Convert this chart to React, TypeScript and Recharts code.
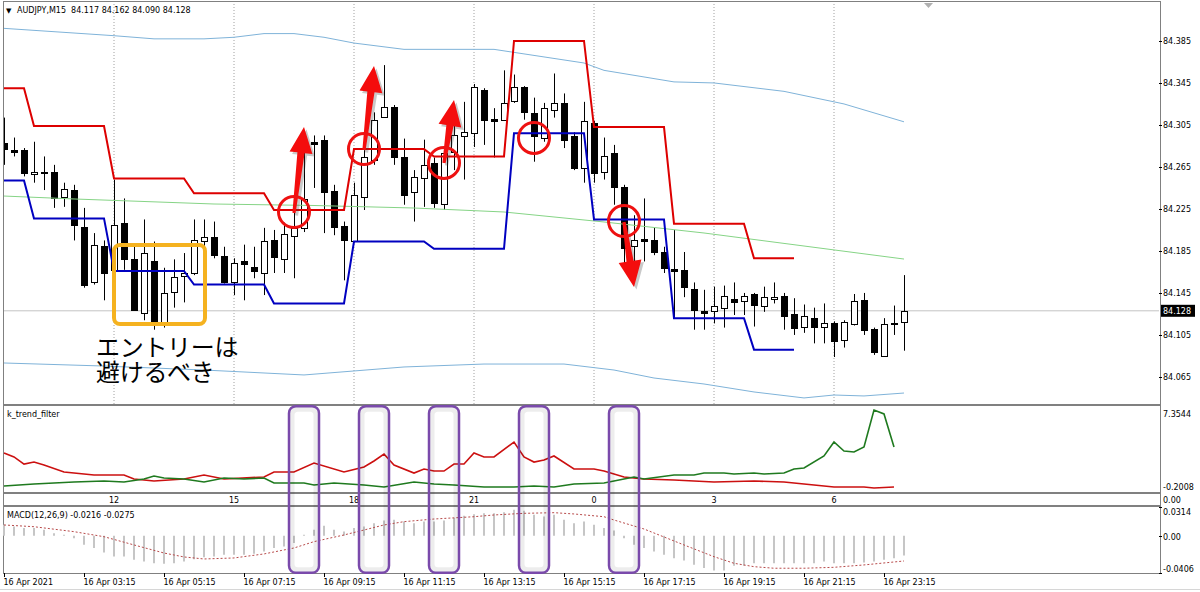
import React from 'react';
import { ComposedChart, Bar, Line, XAxis, YAxis, ReferenceLine, ReferenceDot, ReferenceArea } from 'recharts';

const FONT = '"DejaVu Sans", Verdana, sans-serif';
const JP_FONT = '"Noto Sans CJK JP", "Noto Sans CJK SC", sans-serif';
const SLOTS = 116;

// ---- AUDJPY M15 candles ----
const opens = [84.288,84.281,84.281,84.258,84.260,84.260,84.236,84.243,84.208,84.155,
84.190,84.167,84.212,84.177,84.126,84.175,84.115,84.146,84.161,84.164,
84.194,84.198,84.180,84.155,84.175,84.170,84.164,84.195,84.177,84.199,
84.207,84.289,84.291,84.242,84.209,84.194,84.236,84.272,84.313,84.322,
84.274,84.241,84.254,84.269,84.230,84.279,84.294,84.297,84.338,84.311,
84.310,84.328,84.341,84.316,84.293,84.319,84.326,84.294,84.264,84.307,
84.260,84.278,84.246,84.190,84.196,84.195,84.184,84.168,84.167,84.149,
84.128,84.128,84.131,84.139,84.137,84.144,84.133,84.139,84.142,84.125,
84.113,84.121,84.113,84.116,84.100,84.115,84.138,84.111,84.085,84.116,
84.117];
const highs = [84.312,84.293,84.283,84.289,84.275,84.267,84.250,84.248,84.226,84.202,
84.195,84.253,84.235,84.189,84.215,84.194,84.169,84.177,84.183,84.215,
84.215,84.213,84.189,84.178,84.191,84.189,84.207,84.205,84.212,84.224,
84.291,84.295,84.295,84.248,84.213,84.250,84.281,84.317,84.362,84.324,
84.292,84.262,84.291,84.274,84.284,84.308,84.327,84.344,84.340,84.321,
84.357,84.353,84.342,84.331,84.326,84.354,84.335,84.298,84.327,84.309,
84.293,84.286,84.248,84.219,84.235,84.207,84.189,84.205,84.184,84.155,
84.148,84.151,84.152,84.155,84.145,84.145,84.151,84.155,84.145,84.140,
84.134,84.131,84.135,84.118,84.119,84.144,84.145,84.112,84.121,84.133,
84.162];
const lows = [84.267,84.275,84.256,84.250,84.243,84.226,84.227,84.195,84.150,84.153,
84.138,84.140,84.167,84.128,84.119,84.110,84.112,84.131,84.136,84.162,
84.172,84.178,84.154,84.143,84.138,84.159,84.143,84.164,84.164,84.159,
84.203,84.245,84.202,84.200,84.157,84.193,84.224,84.267,84.312,84.267,
84.229,84.213,84.227,84.226,84.224,84.262,84.253,84.284,84.286,84.274,
84.309,84.326,84.310,84.270,84.289,84.312,84.283,84.262,84.250,84.250,
84.253,84.229,84.167,84.167,84.175,84.181,84.164,84.122,84.141,84.110,
84.110,84.116,84.112,84.124,84.124,84.113,84.127,84.135,84.110,84.105,
84.107,84.097,84.097,84.084,84.093,84.114,84.105,84.086,84.084,84.105,
84.090];
const closes = [84.282,84.279,84.259,84.260,84.259,84.235,84.244,84.210,84.153,84.191,
84.164,84.210,84.177,84.129,84.183,84.115,84.145,84.160,84.164,84.195,
84.198,84.181,84.155,84.174,84.173,84.166,84.194,84.179,84.201,84.207,
84.234,84.287,84.241,84.208,84.195,84.238,84.274,84.310,84.322,84.274,
84.238,84.255,84.267,84.231,84.278,84.295,84.298,84.341,84.310,84.309,
84.326,84.341,84.317,84.294,84.321,84.326,84.291,84.264,84.309,84.259,
84.275,84.246,84.188,84.195,84.194,84.184,84.169,84.166,84.151,84.129,
84.126,84.133,84.142,84.136,84.142,84.134,84.141,84.141,84.123,84.112,
84.123,84.113,84.116,84.099,84.117,84.137,84.110,84.089,84.115,84.115,
84.128];

// ---- channel (step) lines: level per 2h block ----
const channelStarts = [0, 3, 11, 19, 27, 35, 43, 51, 59, 67, 75];
const channelEnd = 79;
const upperChannel = [84.340, 84.304, 84.254, 84.240, 84.224, 84.282, 84.275, 84.385, 84.303, 84.211, 84.178];
const lowerChannel = [84.252, 84.216, 84.166, 84.153, 84.135, 84.194, 84.187, 84.297, 84.215, 84.121, 84.091];

// ---- moving average and bands (read at bar index) ----
const maPoints: [number, number][] = [[0,84.2373],[7,84.2345],[21,84.2297],[31,84.2283],[41,84.2259],[50,84.2221],[60,84.2126],[70,84.2021],[80,84.1897],[90,84.1773]];
const upperBandPoints: [number, number][] = [[0,84.397],[11,84.390],[15,84.387],[20,84.387],[23,84.3885],[26,84.392],[29,84.392],[32,84.3885],[35,84.383],[40,84.377],[49,84.377],[58,84.364],[60,84.357],[67,84.346],[71,84.345],[78,84.337],[84,84.325],[90,84.308]];
const lowerBandPoints: [number, number][] = [[0,84.0783],[10,84.0754],[20,84.0716],[30,84.0669],[40,84.0745],[48,84.0773],[56,84.0773],[61,84.0716],[65,84.064],[70,84.0583],[75,84.0507],[80,84.045],[83,84.0478],[86,84.0469],[90,84.0497]];

// ---- k_trend_filter ----
const trendRedPoints: [number, number][] = [[0,3.29],[1,2.92],[2,2.25],[3,2.44],[4,2.16],[6,1.50],[9,1.22],[12,1.22],[13,0.84],[15,0.65],[18,0.84],[20,1.22],[22,0.84],[26,1.03],[27,1.50],[29,1.50],[31,2.35],[34,1.50],[36,1.97],[37,2.54],[38,3.20],[39,2.16],[41,1.40],[42,1.78],[43,1.59],[44,1.59],[45,2.25],[46,2.25],[47,3.29],[48,2.92],[49,2.92],[51,4.33],[52,2.92],[53,2.44],[54,2.63],[55,3.01],[57,1.78],[59,1.78],[60,1.59],[62,1.03],[64,0.84],[67,0.74],[71,0.55],[75,0.65],[78,0.55],[80,0.37],[83,0.08],[86,0.08],[87,-0.01],[89,0.08]];
const trendGreenPoints: [number, number][] = [[0,0.18],[3,0.37],[7,0.55],[10,0.65],[12,0.55],[14,0.84],[15,1.12],[16,0.93],[18,0.84],[20,0.55],[22,0.93],[24,0.84],[26,0.93],[27,0.46],[30,0.46],[31,0.27],[33,0.46],[36,0.27],[38,0.08],[41,0.55],[43,0.37],[45,0.27],[48,0.08],[51,0.08],[53,0.18],[55,0.08],[57,0.37],[60,0.46],[62,0.84],[63,1.03],[64,0.84],[67,1.22],[69,1.22],[70,1.40],[72,1.40],[73,1.31],[75,1.40],[76,1.31],[78,1.40],[79,1.78],[80,1.88],[82,3.01],[83,4.33],[84,3.48],[85,3.39],[86,3.86],[87,7.35],[88,6.98],[89,3.86]];

// ---- MACD(12,26,9) ----
const macdHist = [0.0120,0.0102,0.0084,0.0084,0.0066,0.0029,0.0011,-0.0026,-0.0099,-0.0134,
-0.0182,-0.0226,-0.0226,-0.0262,-0.0280,-0.0299,-0.0306,-0.0299,-0.0280,-0.0255,
-0.0233,-0.0226,-0.0207,-0.0207,-0.0207,-0.0196,-0.0171,-0.0134,-0.0117,-0.0080,
0.0011,0.0066,0.0110,0.0066,0.0047,0.0084,0.0102,0.0138,0.0167,0.0174,
0.0156,0.0138,0.0156,0.0156,0.0167,0.0193,0.0218,0.0236,0.0247,0.0247,
0.0258,0.0284,0.0273,0.0229,0.0211,0.0229,0.0174,0.0138,0.0156,0.0120,
0.0084,0.0058,-0.0027,-0.0099,-0.0134,-0.0171,-0.0207,-0.0244,-0.0269,-0.0316,
-0.0352,-0.0378,-0.0378,-0.0327,-0.0327,-0.0299,-0.0299,-0.0299,-0.0299,-0.0299,
-0.0299,-0.0299,-0.0280,-0.0299,-0.0299,-0.0299,-0.0291,-0.0280,-0.0262,-0.0244,
-0.0216];
const macdSignalPoints: [number, number][] = [[0,0.0118],[3,0.0099],[7,0.0045],[10,-0.0010],[13,-0.0100],[16,-0.0188],[18,-0.0231],[20,-0.0253],[23,-0.0242],[26,-0.0198],[29,-0.0133],[31,-0.0064],[34,0.0009],[36,0.0063],[38,0.0118],[40,0.0154],[43,0.0183],[47,0.0208],[49,0.0227],[52,0.0245],[55,0.0252],[57,0.0238],[60,0.0208],[61,0.0172],[64,0.0074],[66,-0.0013],[68,-0.0100],[71,-0.0228],[73,-0.0300],[75,-0.0337],[77,-0.0354],[80,-0.0354],[83,-0.0344],[86,-0.0318],[90,-0.0275]];

// ---- axes ----
const priceTicks = [84.385, 84.345, 84.305, 84.265, 84.225, 84.185, 84.145, 84.105, 84.065];
const CURRENT_PRICE = 84.128;
const MAIN_DOMAIN: [number, number] = [84.03924, 84.42114];
const TREND_DOMAIN: [number, number] = [-0.3897, 7.7322];
const MACD_DOMAIN: [number, number] = [-0.0406, 0.0314];
const trendTicks = [7.3544, -0.2008];
const trendTickLabels = ['7.3544', '-0.2008'];
const trendTickShift = [4, -3];
const macdTicks = [0.0314, 0, -0.0406];
const macdTickLabels = ['0.0314', '0.00', '-0.0406'];
const macdTickShift = [5, 1, -4.5];
const hourTickIdx = [11, 23, 35, 47, 59, 71, 83];
const hourLabels = ['12', '15', '18', '21', '0', '3', '6'];
const dateTickIdx = [0, 8, 16, 24, 32, 40, 48, 56, 64, 72, 80, 88];
const dateLabels = ['16 Apr 2021', '16 Apr 03:15', '16 Apr 05:15', '16 Apr 07:15', '16 Apr 09:15', '16 Apr 11:15', '16 Apr 13:15', '16 Apr 15:15', '16 Apr 17:15', '16 Apr 19:15', '16 Apr 21:15', '16 Apr 23:15'];

// ---- annotations (bar index, price) ----
const signalCircles = [{ i: 29, p: 84.2221 }, { i: 36, p: 84.2821 }, { i: 44, p: 84.2688 }, { i: 53, p: 84.2926 }, { i: 62, p: 84.2135 }];
const signalArrows = [
  { from: { i: 29, p: 84.2211 }, to: { i: 30, p: 84.3031 } },
  { from: { i: 36, p: 84.2811 }, to: { i: 37, p: 84.3611 } },
  { from: { i: 44, p: 84.2688 }, to: { i: 45, p: 84.3288 } },
  { from: { i: 62, p: 84.2126 }, to: { i: 63, p: 84.1507 } },
];
const avoidBox = { i1: 11, i2: 20, p1: 84.1154, p2: 84.1907 };
const filterBoxes: [number, number][] = [[29, 31], [36, 38], [43, 45], [52, 54], [61, 63]];
const FILTER_BOX_Y: [number, number] = [-0.0404, 0.1414];
const noteText = 'エントリーは\n避けるべき';

const toMap = (pts: [number, number][]) => new Map(pts.map(([i, v]) => [i, v]));
const maMap = toMap(maPoints);
const ubMap = toMap(upperBandPoints);
const lbMap = toMap(lowerBandPoints);
const trMap = toMap(trendRedPoints);
const tgMap = toMap(trendGreenPoints);
const sgMap = toMap(macdSignalPoints);

const rows = Array.from({ length: SLOTS }, (_, i) => {
  const has = i < opens.length;
  let seg = -1;
  if (i <= channelEnd) channelStarts.forEach((s, k) => { if (s <= i) seg = k; });
  return {
    i,
    o: has ? opens[i] : null,
    h: has ? highs[i] : null,
    l: has ? lows[i] : null,
    c: has ? closes[i] : null,
    range: has ? [lows[i], highs[i]] : null,
    upper: seg >= 0 ? upperChannel[seg] : null,
    lower: seg >= 0 ? lowerChannel[seg] : null,
    ma: maMap.has(i) ? maMap.get(i) : null,
    ub: ubMap.has(i) ? ubMap.get(i) : null,
    lb: lbMap.has(i) ? lbMap.get(i) : null,
    tRed: trMap.has(i) ? trMap.get(i) : null,
    tGreen: tgMap.has(i) ? tgMap.get(i) : null,
    hist: i < macdHist.length ? macdHist[i] : null,
    sig: sgMap.has(i) ? sgMap.get(i) : null,
  };
});

const Candle = (props: any) => {
  const { x, y, width, height, payload } = props;
  if (!payload || payload.o == null || !isFinite(y) || !isFinite(height)) return <g />;
  const { o, h, l, c } = payload;
  const top = Math.min(y, y + height);
  const span = Math.abs(height);
  const toY = (v: number) => (h === l ? top : top + ((h - v) / (h - l)) * span);
  const cx = Math.floor(x + width / 2) + 0.5;
  const bTop = Math.round(toY(Math.max(o, c))) + 0.5;
  const bBot = Math.round(toY(Math.min(o, c))) + 0.5;
  const bull = c > o;
  return (
    <g>
      <line x1={cx} x2={cx} y1={top} y2={top + span} stroke="#000" strokeWidth={1} />
      <rect x={cx - 3} y={bTop} width={6} height={Math.max(bBot - bTop, 1)} fill={bull ? '#fff' : '#000'} stroke="#000" strokeWidth={1} />
    </g>
  );
};

const Arrow = (props: any) => {
  const { x1, y1, x2, y2 } = props;
  if (![x1, y1, x2, y2].every((v) => isFinite(v))) return <g />;
  const dx = x2 - x1, dy = y2 - y1;
  const len = Math.hypot(dx, dy) || 1;
  const ux = dx / len, uy = dy / len, nx = -uy, ny = ux;
  const headLen = 26, headW = 11.5, shaftTop = 3.6, shaftBot = 1.6;
  const bx = x2 - ux * headLen, by = y2 - uy * headLen;
  const pts = [
    [x1 + nx * shaftBot, y1 + ny * shaftBot],
    [bx + nx * shaftTop, by + ny * shaftTop],
    [bx + nx * headW, by + ny * headW],
    [x2, y2],
    [bx - nx * headW, by - ny * headW],
    [bx - nx * shaftTop, by - ny * shaftTop],
    [x1 - nx * shaftBot, y1 - ny * shaftBot],
  ];
  const str = (ox: number, oy: number) => pts.map(([a, b]) => `${a + ox},${b + oy}`).join(' ');
  return (
    <g>
      <polygon points={str(2.5, 2.5)} fill="rgba(60,60,60,0.28)" />
      <polygon points={str(0, 0)} fill="#f40d0d" />
    </g>
  );
};

const AvoidRect = (p: any) => (
  <rect x={p.x + 5} y={p.y} width={p.width - 9} height={p.height} rx={6} fill="none" stroke="#f5b21f" strokeWidth={4} />
);

const FilterRect = (p: any) => (
  <g>
    <rect x={p.x + 3} y={p.y + 3} width={p.width - 6} height={p.height - 6} rx={6} fill="none" stroke="rgba(0,0,0,0.07)" strokeWidth={5} />
    <rect x={p.x} y={p.y} width={p.width} height={p.height} rx={7} fill="none" stroke="#7a4aab" strokeWidth={2.5} />
  </g>
);

const PriceTick = (props: any) => {
  const { x, y, payload } = props;
  const v = payload.value;
  if (Math.abs(v - CURRENT_PRICE) < 1e-9) {
    return (
      <g>
        <rect x={x - 2} y={y - 6} width={34} height={12} fill="#000" />
        <text x={x} y={y + 3} fontSize={8} fontFamily={FONT} fill="#fff">{v.toFixed(3)}</text>
      </g>
    );
  }
  return (
    <g>
      <line x1={x - 4} x2={x - 1} y1={Math.round(y) + 0.5} y2={Math.round(y) + 0.5} stroke="#000" />
      <text x={x} y={y + 3} fontSize={8} fontFamily={FONT} fill="#000">{v.toFixed(3)}</text>
    </g>
  );
};

const makeSideTick = (ticks: number[], labels: string[], shifts: number[], mark: boolean) => (props: any) => {
  const { x, y, payload } = props;
  const k = ticks.findIndex((t) => Math.abs(t - payload.value) < 1e-9);
  if (k < 0) return <g />;
  return (
    <g>
      {mark && <line x1={x - 4} x2={x - 1} y1={Math.round(y) + 0.5} y2={Math.round(y) + 0.5} stroke="#000" />}
      <text x={x} y={y + shifts[k] + 3} fontSize={8} fontFamily={FONT} fill="#000">{labels[k]}</text>
    </g>
  );
};
const TrendTick = makeSideTick(trendTicks, trendTickLabels, trendTickShift, false);
const MacdTick = makeSideTick(macdTicks, macdTickLabels, macdTickShift, true);

const DateTick = (props: any) => {
  const { x, y, payload } = props;
  const k = dateTickIdx.indexOf(payload.value);
  if (k < 0) return <g />;
  const lx = Math.floor(x) + 0.5;
  return (
    <g>
      <line x1={lx} x2={lx} y1={y - 2} y2={y + 2} stroke="#000" />
      <text x={x - 0.5} y={y + 10} fontSize={8} fontFamily={FONT} fill="#000">{dateLabels[k]}</text>
    </g>
  );
};

const lineCommon = { dot: false, activeDot: false, isAnimationActive: false, type: 'linear' as const };

export default function App() {
  return (
    <div style={{ position: 'absolute', left: 0, top: 0, width: 1200, height: 592, overflow: 'hidden', background: '#fff' }}>
      {/* frame */}
      <svg width={1200} height={592} style={{ position: 'absolute', left: 0, top: 0 }}>
        <line x1={3} x2={1161} y1={1.5} y2={1.5} stroke="#808080" />
        <line x1={3.5} x2={3.5} y1={1} y2={574} stroke="#808080" />
        <line x1={1160.5} x2={1160.5} y1={1} y2={574} stroke="#808080" />
        <rect x={3} y={404} width={1158} height={2} fill="#808080" />
        <rect x={3} y={492} width={1158} height={2} fill="#808080" />
        <rect x={3} y={505} width={1158} height={2} fill="#808080" />
        <line x1={3} x2={1161} y1={573.5} y2={573.5} stroke="#808080" />
        <line x1={0} x2={1200} y1={589.5} y2={589.5} stroke="#d6d6d6" />
      </svg>

      {/* main price panel */}
      <div style={{ position: 'absolute', left: 4, top: 3, width: 1196, height: 401, overflow: 'hidden' }}>
        <div style={{ position: 'absolute', left: -5, top: 0 }}>
          <ComposedChart width={1202} height={401} data={rows} margin={{ top: 0, right: 0, bottom: 0, left: 0 }}>
            <XAxis dataKey="i" type="category" scale="band" hide />
            <YAxis orientation="right" width={42} domain={MAIN_DOMAIN} allowDataOverflow ticks={[...priceTicks, CURRENT_PRICE]} interval={0} axisLine={false} tickLine={false} tickSize={3} tickMargin={1} tick={<PriceTick />} />
            {hourTickIdx.map((h) => (
              <ReferenceLine key={`g${h}`} x={h} stroke="#a0a0a0" strokeDasharray="1 2" zIndex={-10} />
            ))}
            <ReferenceLine y={CURRENT_PRICE} stroke="#c4c4c4" zIndex={-10} />
            <Bar dataKey="range" barSize={8} shape={<Candle />} isAnimationActive={false} zIndex={300} />
            <Line dataKey="ub" stroke="#7fb3d9" strokeWidth={1} connectNulls {...lineCommon} zIndex={400} />
            <Line dataKey="lb" stroke="#7fb3d9" strokeWidth={1} connectNulls {...lineCommon} zIndex={400} />
            <Line dataKey="ma" stroke="#86d486" strokeWidth={1} connectNulls {...lineCommon} zIndex={400} />
            <Line dataKey="upper" stroke="#dd0000" strokeWidth={2} {...lineCommon} zIndex={410} />
            <Line dataKey="lower" stroke="#0000c0" strokeWidth={2} {...lineCommon} zIndex={410} />
            <ReferenceArea x1={avoidBox.i1} x2={avoidBox.i2} y1={avoidBox.p1} y2={avoidBox.p2} ifOverflow="visible" shape={<AvoidRect />} zIndex={2500} />
            {signalArrows.map((a, k) => (
              <ReferenceLine key={`a${k}`} segment={[{ x: a.from.i, y: a.from.p }, { x: a.to.i, y: a.to.p }]} ifOverflow="visible" shape={<Arrow />} zIndex={2600} />
            ))}
            {signalCircles.map((c, k) => (
              <ReferenceDot key={`c${k}`} x={c.i} y={c.p} r={15.5} fill="none" stroke="#ee1111" strokeWidth={3} ifOverflow="visible" zIndex={2700} />
            ))}
          </ComposedChart>
        </div>
      </div>

      {/* k_trend_filter panel */}
      <div style={{ position: 'absolute', left: -1, top: 406 }}>
        <ComposedChart width={1202} height={100} data={rows} margin={{ top: 0, right: 0, bottom: 0, left: 0 }}>
          <XAxis dataKey="i" type="category" scale="band" ticks={hourTickIdx} interval={0} height={14} axisLine={false} tickLine={false} tickSize={0} tickMargin={5}
            tick={{ fontSize: 8, fill: '#000', fontFamily: FONT }} tickFormatter={(v: any) => hourLabels[hourTickIdx.indexOf(v)] ?? ''} />
          <YAxis orientation="right" width={42} domain={TREND_DOMAIN} allowDataOverflow ticks={trendTicks} interval={0} axisLine={false} tickLine={false} tickSize={3} tickMargin={1} tick={TrendTick} />
          <Line dataKey="tRed" stroke="#cc1010" strokeWidth={1.6} connectNulls {...lineCommon} />
          <Line dataKey="tGreen" stroke="#1f7a1f" strokeWidth={1.6} connectNulls {...lineCommon} />
        </ComposedChart>
      </div>

      {/* MACD panel (svg reaches up to host the filter boxes) */}
      <div style={{ position: 'absolute', left: -1, top: 404 }}>
        <ComposedChart width={1202} height={188} data={rows} margin={{ top: 103, right: 0, bottom: 0, left: 0 }}>
          <XAxis dataKey="i" type="category" scale="band" ticks={dateTickIdx} interval={0} height={19} axisLine={false} tickLine={false} tickSize={0} tickMargin={2} tick={<DateTick />} />
          <YAxis orientation="right" width={42} domain={MACD_DOMAIN} allowDataOverflow ticks={macdTicks} interval={0} axisLine={false} tickLine={false} tickSize={3} tickMargin={1} tick={MacdTick} />
          <Bar dataKey="hist" barSize={2} fill="#c6c6c6" isAnimationActive={false} />
          <Line dataKey="sig" stroke="#b84a4a" strokeWidth={1} strokeDasharray="2 2" connectNulls {...lineCommon} />
          {filterBoxes.map(([a, b], k) => (
            <ReferenceArea key={`f${k}`} x1={a} x2={b} y1={FILTER_BOX_Y[0]} y2={FILTER_BOX_Y[1]} ifOverflow="visible" shape={<FilterRect />} zIndex={2500} />
          ))}
        </ComposedChart>
      </div>

      {/* texts */}
      <svg width={1200} height={592} style={{ position: 'absolute', left: 0, top: 0, pointerEvents: 'none' }}>
        <text x={6} y={12.5} fontSize={7} fontFamily={FONT} fill="#000">▼</text>
        <text x={17} y={13} fontSize={8} fontFamily={FONT} fill="#000" style={{ whiteSpace: 'pre' }}>{'AUDJPY,M15  84.117 84.162 84.090 84.128'}</text>
        <polygon points="924,3 933,3 928.5,8" fill="#b0b0b0" />
        <text x={7} y={416.5} fontSize={8} fontFamily={FONT} fill="#000">k_trend_filter</text>
        <text x={1163} y={503} fontSize={8} fontFamily={FONT} fill="#000">0.00</text>
        <text x={7} y={517.5} fontSize={8} fontFamily={FONT} fill="#000">MACD(12,26,9) -0.0216 -0.0275</text>
      </svg>
      <div style={{ position: 'absolute', left: 96, top: 334, fontFamily: JP_FONT, fontSize: 24, lineHeight: '24.5px', letterSpacing: '-0.3px', color: '#000', whiteSpace: 'pre', pointerEvents: 'none' }}>
        {noteText}
      </div>
    </div>
  );
}
